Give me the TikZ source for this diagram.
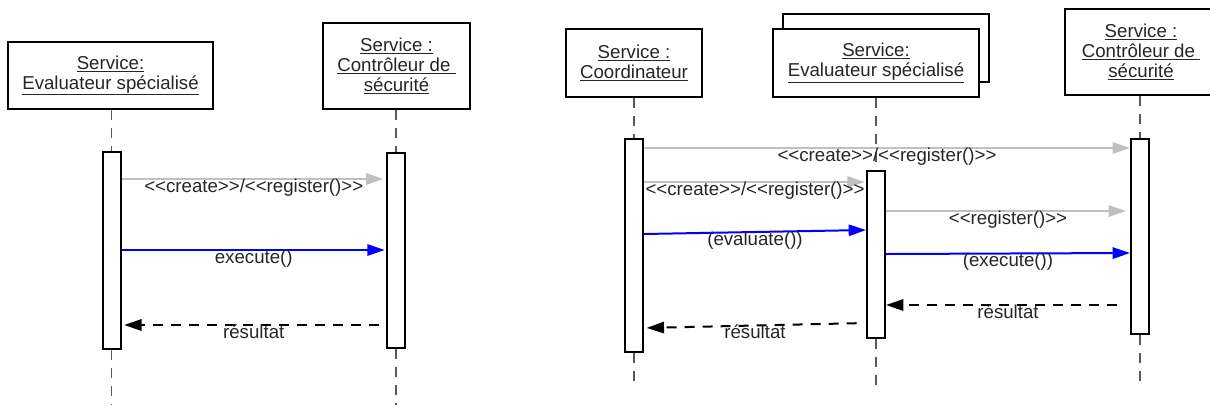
\documentclass[tikz,border=0pt]{standalone}
\usepackage{fontspec}
\newfontfamily\sqfont{Liberation Sans}
\usepackage{tikz}
\usetikzlibrary{arrows.meta, positioning, calc}
\definecolor{sqGray}{HTML}{5A5A5A}
\definecolor{sqLight}{HTML}{C0C0C0}
\definecolor{sqBlue}{HTML}{0000FF}
\definecolor{sqText}{HTML}{262626}

\begin{document}
\begin{tikzpicture}[x=0.75pt, y=-0.75pt,
  obj/.style={draw, line width=1.5pt, fill=white, align=center, inner sep=0pt,
              font=\fontsize{14}{15}\sqfont, text=sqText},
  act/.style={draw, line width=1.5pt, fill=white, minimum width=13.5pt, inner sep=0pt},
  life/.style={draw=sqGray, line width=1.1pt, dash pattern=on 7.5pt off 6pt},
  msg/.style={line width=1.5pt, -{Triangle[length=13pt, width=8.5pt]}},
  create/.style={msg, draw=sqLight},
  call/.style={msg, draw=sqBlue},
  reply/.style={msg, draw=black, dash pattern=on 7.5pt off 6pt},
  lbl/.style={font=\fontsize{14}{15}\sqfont, text=sqText, inner sep=0pt,
              text height=10pt, text depth=3pt, yshift=-6.25pt}]
  \useasboundingbox (0,0) rectangle (1210,405);
  \clip (0,0) rectangle (1210,405);
  % left: execute
  \node[obj, minimum width=153.75pt, minimum height=50.25pt] (evalL) at (110.5,75.5)
    {\underline{Service:}\\\underline{Evaluateur spécialisé}};
  \node[obj, minimum width=110.25pt, minimum height=64.5pt] (ctrlL) at (396.5,66)
    {\underline{Service :}\\\underline{Contrôleur de\ }\\\underline{sécurité}};
  \draw[life] (111.5,0 |- evalL.south) -- (111.5,152);
  \draw[life] (396,0 |- ctrlL.south) -- (396,153);
  \node[act, minimum height=147.75pt] (actEvalL) at (111.5,250.5) {};
  \node[act, minimum height=146.25pt] (actCtrlL) at (396,250.5) {};
  \draw[life] (actEvalL.south) -- (actEvalL.south |- 0,405);
  \draw[life] (actCtrlL.south) -- (actCtrlL.south |- 0,405);
  \draw[create, shorten >=2pt] (actEvalL.east |- 0,179) -- (actCtrlL.west |- 0,179)
    node[lbl, midway] {<<create>>/<<register()>>};
  \draw[call, shorten >=1pt] (actEvalL.east |- 0,250) -- (actCtrlL.west |- 0,250)
    node[lbl, midway] {execute()};
  \draw[reply, shorten <=5pt, shorten >=2pt] (actCtrlL.west |- 0,325) -- (actEvalL.east |- 0,325)
    node[lbl, midway] {résultat};
  % right: coordinate
  \node[obj, minimum width=102pt, minimum height=51pt] (coordR) at (634,63)
    {\underline{Service :}\\\underline{Coordinateur}};
  \node[obj, minimum width=154.5pt, minimum height=51pt] (evalBack) at (886,48) {};
  \node[obj, minimum width=154.5pt, minimum height=51pt] (evalR) at (876,63)
    {\underline{Service:}\\\underline{Evaluateur spécialisé}};
  \node[obj, minimum width=114pt, minimum height=64.5pt] (ctrlR) at (1141,52)
    {\underline{Service :}\\\underline{Contrôleur de\ }\\\underline{sécurité}};
  \draw[life] (coordR.south) -- (634,139);
  \draw[life] (evalR.south) -- (876,171);
  \draw[life] (1140,0 |- ctrlR.south) -- (1140,139);
  \node[act, minimum height=159.75pt] (actCoord) at (634,245.5) {};
  \node[act, minimum height=125.25pt] (actEvalR) at (876,254.5) {};
  \node[act, minimum height=146.25pt] (actCtrlR) at (1140,236.5) {};
  \draw[life] (actCoord.south) -- (actCoord.south |- 0,387);
  \draw[life] (actEvalR.south) -- (actEvalR.south |- 0,392);
  \draw[life] (actCtrlR.south) -- (actCtrlR.south |- 0,387);
  \draw[create] (actCoord.east |- 0,148) -- (actCtrlR.west |- 0,148)
    node[lbl, midway] {<<create>>/<<register()>>};
  \draw[create, shorten >=1pt] (actCoord.east |- 0,182) -- (actEvalR.west |- 0,182)
    node[lbl, midway] {<<create>>/<<register()>>};
  \draw[create, shorten >=3pt] (actEvalR.east |- 0,211) -- (actCtrlR.west |- 0,211)
    node[lbl, midway] {<<register()>>};
  \draw[call] (actCoord.east |- 0,234) -- (actEvalR.west |- 0,230)
    node[lbl, midway] {(evaluate())};
  \draw[call] (actEvalR.east |- 0,254) -- (actCtrlR.west |- 0,253)
    node[lbl, midway] {(execute())};
  \draw[reply, shorten <=10pt] (actCtrlR.west |- 0,305) -- (actEvalR.east |- 0,305)
    node[lbl, midway] {résultat};
  \draw[reply, shorten <=7pt, shorten >=2pt] (actEvalR.west |- 0,323) -- (actCoord.east |- 0,328)
    node[lbl, midway] {résultat};
\end{tikzpicture}
\end{document}
